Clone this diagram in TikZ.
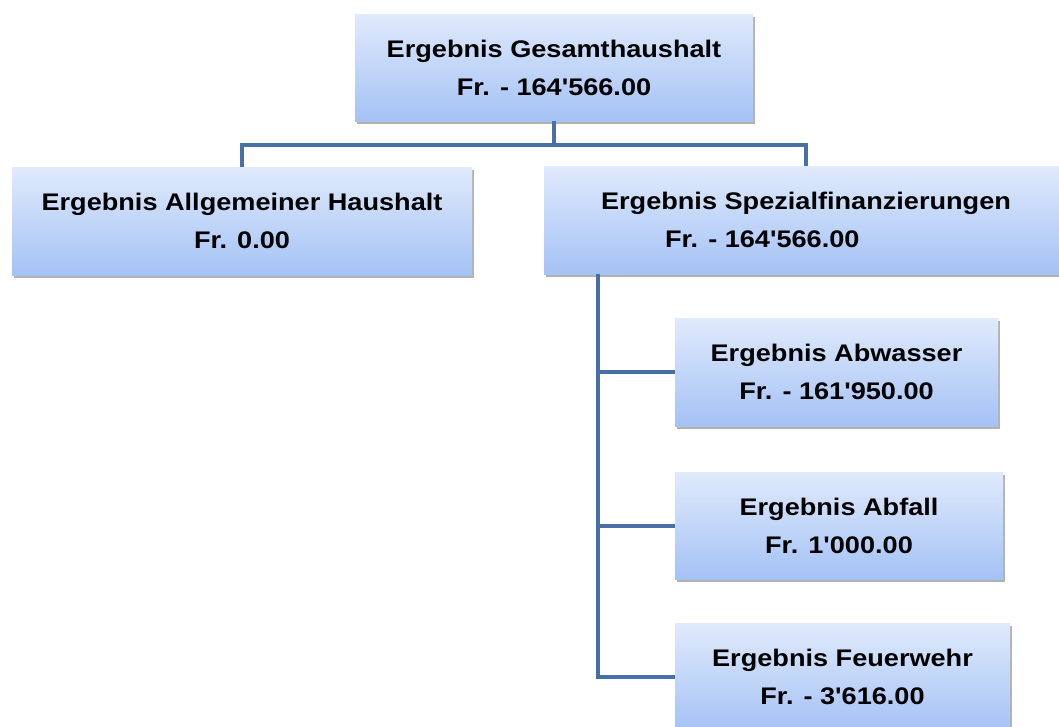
\documentclass[tikz,border=0pt]{standalone}
\usepackage{fontspec}
\setmainfont{Liberation Sans}[FakeStretch=1.13, Ligatures=TeXOff]
\usetikzlibrary{shadows}
\definecolor{conn}{RGB}{72,112,166}
\definecolor{boxtop}{RGB}{224,234,252}
\definecolor{boxbot}{RGB}{164,194,245}
\tikzset{
  box/.style={rectangle, inner sep=0pt, top color=boxtop, bottom color=boxbot, draw=none,
    drop shadow={shadow xshift=2pt, shadow yshift=-3pt, fill=black, opacity=0.3},
    align=center, font=\fontsize{24}{38}\selectfont\bfseries},
  link/.style={draw=conn, line width=4pt}
}
\begin{document}
\begin{tikzpicture}[x=1pt,y=1pt]
\useasboundingbox (0,0) rectangle (1059,-726);
\node[box, minimum width=398pt, minimum height=107pt] (top) at (554,-67.5) {Ergebnis Gesamthaushalt\\Fr. - 164'566.00};
\node[box, minimum width=460pt, minimum height=108pt] (left) at (242,-221) {Ergebnis Allgemeiner Haushalt\\Fr. 0.00};
\node[box, minimum width=524pt, minimum height=108pt, align=left] (spez) at (806,-220) {Ergebnis Spezialfinanzierungen\\\hspace*{64pt}Fr. - 164'566.00};
\node[box, minimum width=323pt, minimum height=108pt] (abw) at (836.5,-372) {Ergebnis Abwasser\\Fr. - 161'950.00};
\node[box, minimum width=328pt, minimum height=107pt] (abf) at (839,-525.5) {Ergebnis Abfall\\Fr. 1'000.00};
\node[box, minimum width=335pt, minimum height=108pt] (feu) at (842.5,-677) {Ergebnis Feuerwehr\\Fr. - 3'616.00};
\coordinate (j) at (554,-145);
\coordinate (tx) at (598,0);
\draw[link] (top.south) -- (j);
\draw[link] (left.north) |- (j) -| (spez.north);
\draw[link] (tx |- spez.south) |- (feu.west);
\draw[link] (tx |- abw.west) -- (abw.west);
\draw[link] (tx |- abf.west) -- (abf.west);
\end{tikzpicture}
\end{document}
